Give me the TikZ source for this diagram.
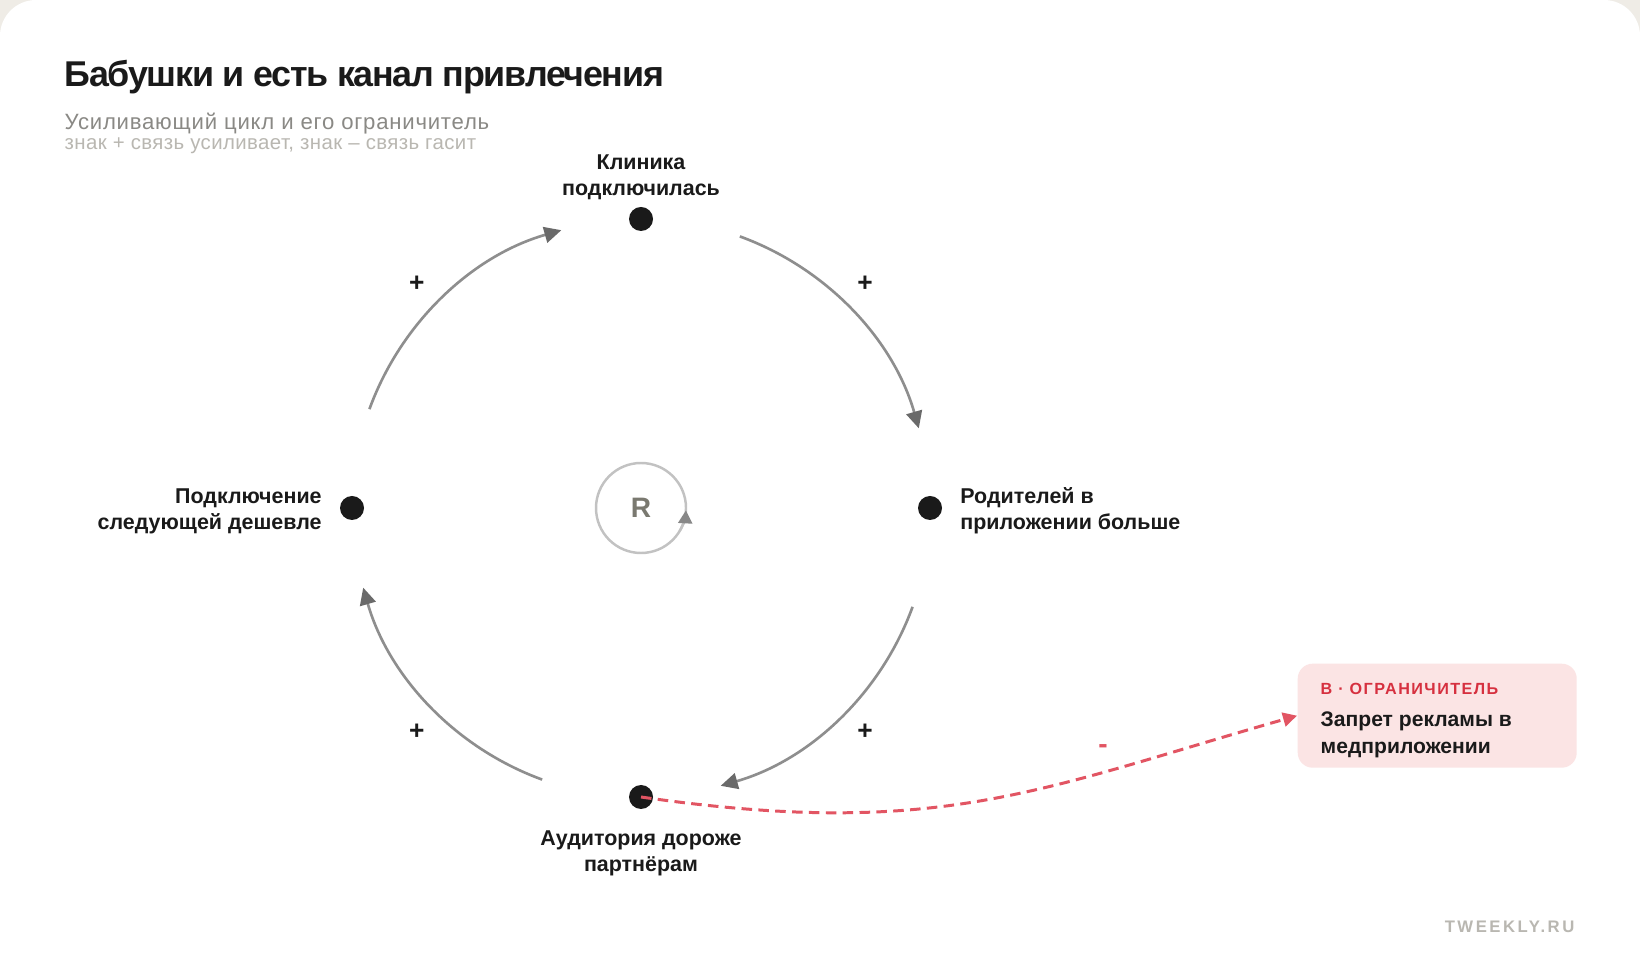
\documentclass[tikz,border=0pt]{standalone}
\usepackage{fontspec}
\setmainfont{Liberation Sans}
\usetikzlibrary{arrows.meta,positioning}
\definecolor{ink}{HTML}{1A1A1A}
\definecolor{paper}{HTML}{EFECE6}
\definecolor{arcgray}{HTML}{8E8E8E}
\definecolor{tipgray}{HTML}{6A6A6A}
\definecolor{subgray}{HTML}{8A8985}
\definecolor{notegray}{HTML}{B9B7B1}
\definecolor{ringgray}{HTML}{C2C2C2}
\definecolor{rgray}{HTML}{7A7970}
\definecolor{limred}{HTML}{E25563}
\definecolor{tagred}{HTML}{D6303F}
\definecolor{boxpink}{HTML}{FBE4E4}

\begin{document}
\begin{tikzpicture}[
    lbl/.style={font=\bfseries\fontsize{6.1}{7.4}\selectfont, text=ink, inner sep=0pt},
    dot/.style={circle, fill=ink, minimum size=0.24cm, inner sep=0pt},
    link/.style={draw=arcgray, line width=0.75pt, -{Triangle[length=1.7mm,width=1.6mm,color=tipgray]}},
    sign/.style={font=\bfseries\fontsize{7.5}{8}\selectfont, text=ink, inner sep=0pt}
    ]
        \path[use as bounding box, clip] (0,0) rectangle (16.4,9.7);
        \fill[paper] (0,0) rectangle (16.4,9.7);
        \fill[white, rounded corners=0.36cm] (0,-1) rectangle (16.4,9.7);

        \node[anchor=base west, inner sep=0pt, text=ink, font=\bfseries\fontsize{10.2}{12}\selectfont\addfontfeatures{LetterSpace=-3.6}] (title) at (0.64,8.83) {
            Бабушки и есть канал привлечения
        };
        \node[anchor=base west, inner sep=0pt, text=subgray, font=\fontsize{6.3}{7}\selectfont\addfontfeatures{LetterSpace=3.5}] (subtitle) at (0.64,8.40) {
            Усиливающий цикл и его ограничитель
        };
        \node[anchor=base west, inner sep=0pt, text=notegray, font=\fontsize{5.8}{6}\selectfont\addfontfeatures{LetterSpace=2}] (legend) at (0.64,8.20) {
            знак + связь усиливает, знак – связь гасит
        };

        \coordinate (loop) at (6.41,4.62);
        \node[dot] (clinic) at ([shift={(90:2.89)}]loop) {};
        \node[dot] (parents) at ([shift={(0:2.89)}]loop) {};
        \node[dot] (audience) at ([shift={(270:2.89)}]loop) {};
        \node[dot] (cheaper) at ([shift={(180:2.89)}]loop) {};

        \node[lbl, align=center, above=0.06cm of clinic] (clinictext) {Клиника\\подключилась};
        \node[lbl, align=left, right=0.17cm of parents, yshift=-0.03cm] (parentstext) {Родителей в\\приложении больше};
        \node[lbl, align=center, below=0.2cm of audience] (audiencetext) {Аудитория дороже\\партнёрам};
        \node[lbl, align=right, left=0.17cm of cheaper, yshift=-0.03cm] (cheapertext) {Подключение\\следующей дешевле};

        \draw[link] ([shift={(160:2.89)}]loop) arc[start angle=160, end angle=106, radius=2.89];
        \draw[link] ([shift={(70:2.89)}]loop) arc[start angle=70, end angle=16, radius=2.89];
        \draw[link] ([shift={(-20:2.89)}]loop) arc[start angle=-20, end angle=-74, radius=2.89];
        \draw[link] ([shift={(250:2.89)}]loop) arc[start angle=250, end angle=196, radius=2.89];

        \node[sign] (s1) at ([shift={(135:3.17)}]loop) {+};
        \node[sign] (s2) at ([shift={(45:3.17)}]loop) {+};
        \node[sign] (s3) at ([shift={(-45:3.17)}]loop) {+};
        \node[sign] (s4) at ([shift={(225:3.17)}]loop) {+};

        \node[circle, draw=ringgray, line width=0.7pt, minimum size=0.9cm, inner sep=0pt, text=rgray, font=\bfseries\fontsize{8}{9}\selectfont] (ring) at (loop) {R};
        \draw[ringgray, line width=0.7pt, -{Triangle[length=1.3mm,width=1.4mm,color=tipgray!80]}] ([shift={(-30:0.45)}]loop) arc[start angle=-30, end angle=-3, radius=0.45];

        \node[fill=boxpink, rounded corners=0.15cm, minimum width=2.79cm, minimum height=1.04cm, inner sep=0pt, anchor=north west] (limit) at (12.97,3.07) {};
        \node[anchor=base west, inner sep=0pt, text=tagred, font=\bfseries\fontsize{4.6}{5}\selectfont\addfontfeatures{LetterSpace=9}] (limittag) at (13.20,2.75) {В · ОГРАНИЧИТЕЛЬ};
        \node[anchor=base west, inner sep=0pt, text=ink, font=\bfseries\fontsize{6}{7}\selectfont] (limitline1) at (13.20,2.43) {Запрет рекламы в};
        \node[anchor=base west, inner sep=0pt, text=ink, font=\bfseries\fontsize{6}{7}\selectfont] (limitline2) at (13.20,2.16) {медприложении};

        \draw[limred, line width=0.85pt, dash pattern=on 3pt off 1.8pt, -{Triangle[length=1.4mm,width=1.4mm]}] (audience.center) .. controls (9.4,1.30) and (10.4,1.81) .. (limit.west);
        \node[inner sep=0pt, text=limred, font=\bfseries\fontsize{8}{9}\selectfont] (minus) at (11.03,2.21) {-};

        \node[anchor=base east, inner sep=0pt, text=notegray, font=\bfseries\fontsize{4.75}{5}\selectfont\addfontfeatures{LetterSpace=15}] (brand) at (15.75,0.38) {TWEEKLY.RU};
    \end{tikzpicture}
\end{document}
